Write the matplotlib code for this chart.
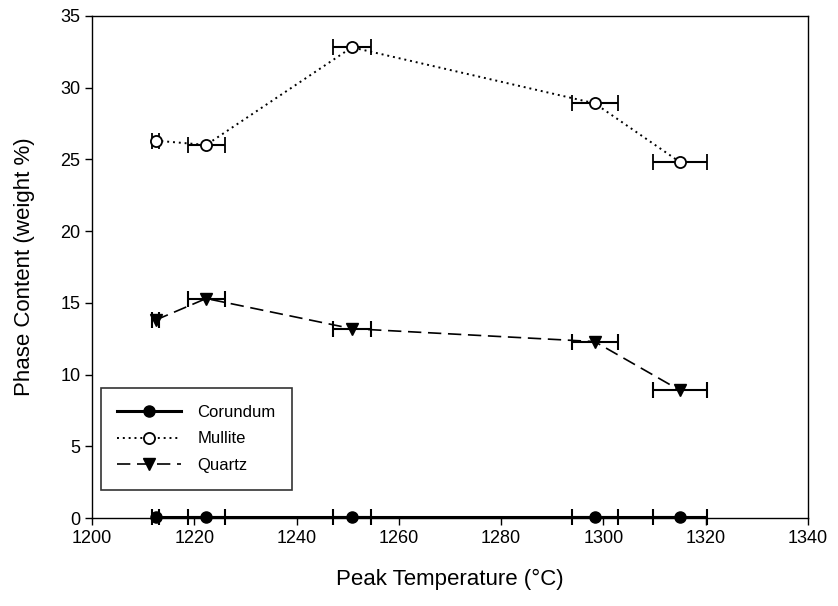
import numpy as np
import matplotlib.pyplot as plt

plt.rcParams['font.family'] = ['Liberation Sans', 'DejaVu Sans']

# Données
temperature = [1212.4, 1222.3, 1250.8, 1298.3, 1315.0]
temp_err = [0.7, 3.6, 3.7, 4.5, 5.2]
corundum = [0.1, 0.1, 0.1, 0.1, 0.1]
mullite = [26.3, 26.0, 32.8, 28.9, 24.8]
quartz = [13.8, 15.3, 13.2, 12.3, 8.9]

fig = plt.figure(figsize=(8.38, 6.06), dpi=100)
ax = fig.add_axes([0.110, 0.145, 0.854, 0.829])

err_style = dict(ecolor='black', elinewidth=1.5, capsize=6, capthick=1.5, color='black',
                 clip_on=False)

c1 = ax.errorbar(temperature, corundum, xerr=temp_err, linestyle='-', linewidth=2.2,
                 marker='o', markersize=8, markerfacecolor='black', markeredgecolor='black',
                 label='Corundum', **err_style)
c2 = ax.errorbar(temperature, mullite, xerr=temp_err, linestyle=(0, (1, 2)), linewidth=1.4,
                 marker='o', markersize=8, markerfacecolor='white', markeredgecolor='black',
                 markeredgewidth=1.3, label='Mullite', **err_style)
c3 = ax.errorbar(temperature, quartz, xerr=temp_err, linestyle=(0, (8, 4)), linewidth=1.2,
                 marker='v', markersize=9, markerfacecolor='black', markeredgecolor='black',
                 label='Quartz', **err_style)

ax.set_xlim(1200, 1340)
ax.set_ylim(0, 35)
ax.set_xticks(np.arange(1200, 1341, 20))
ax.set_yticks(np.arange(0, 36, 5))
ax.tick_params(direction='out', length=5, width=1, labelsize=13, top=False, right=False)
for s in ax.spines.values():
    s.set_linewidth(1)

ax.set_xlabel('Peak Temperature (°C)', fontsize=16, labelpad=16)
ax.set_ylabel('Phase Content (weight %)', fontsize=16, labelpad=18)

handles = [c[0] for c in (c1, c2, c3)]
leg = ax.legend(handles=handles, labels=['Corundum', 'Mullite', 'Quartz'],
                loc='lower left', bbox_to_anchor=(0.0, 0.04), fontsize=12,
                frameon=True, fancybox=False, edgecolor='black', handlelength=3.8,
                borderpad=1.0, labelspacing=0.7, handletextpad=1.0)
leg.get_frame().set_linewidth(1.2)

fig.savefig('out.png', dpi=100)
